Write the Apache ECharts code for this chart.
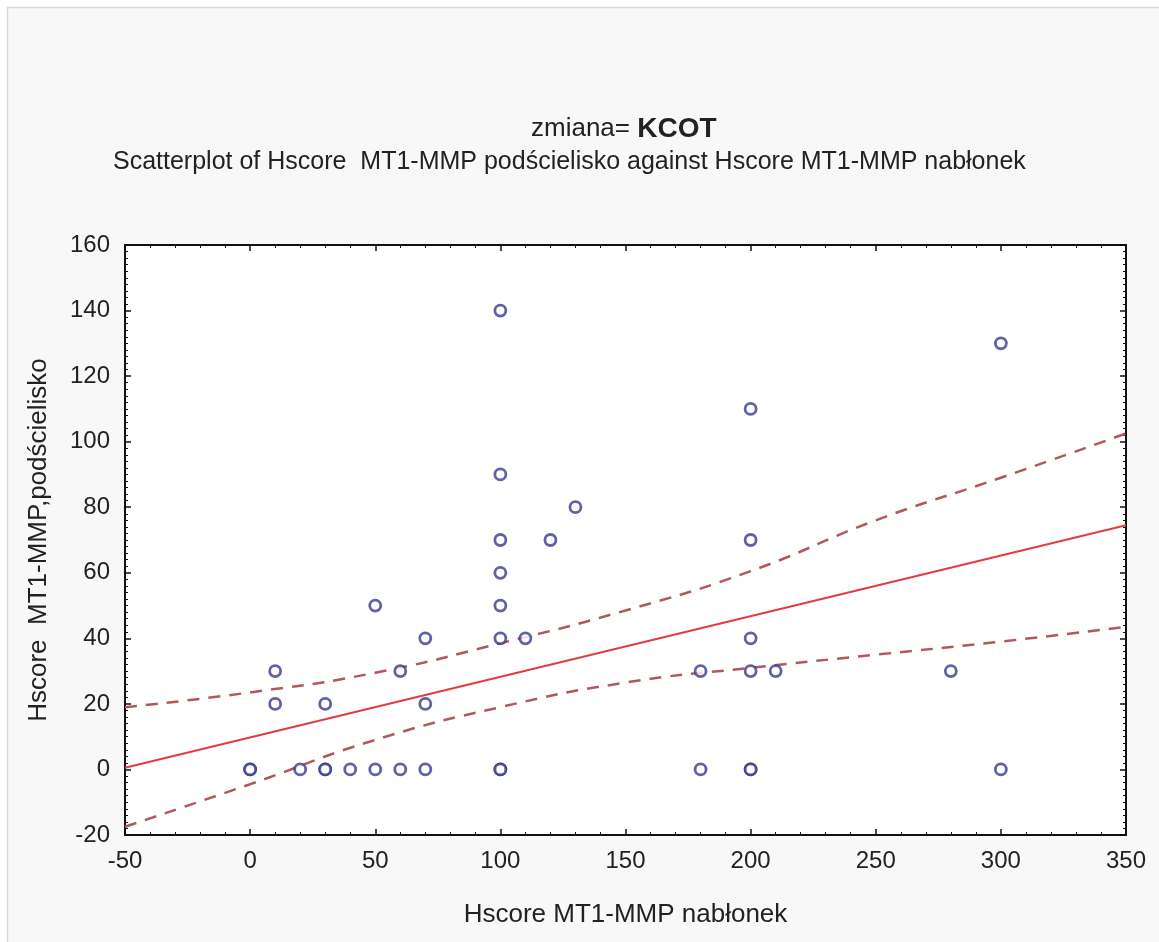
<!DOCTYPE html>
<html><head><meta charset="utf-8">
<script src="https://cdn.jsdelivr.net/npm/echarts@6/dist/echarts.min.js"></script>
<style>html,body{margin:0;padding:0;background:#fff}#c{width:1159px;height:942px}</style>
</head><body><div id="c"></div>
<script>
const xTicks = [-50, 0, 50, 100, 150, 200, 250, 300, 350];
const yTicks = [-20, 0, 20, 40, 60, 80, 100, 120, 140, 160];
const nablonek = [0,0,10,10,20,30,30,30,40,50,50,60,60,70,70,70,100,100,100,100,100,100,100,100,110,120,130,180,180,200,200,200,200,200,200,210,280,300,300];
const podscielisko = [0,0,30,20,0,20,0,0,0,50,0,30,0,40,20,0,140,90,70,60,50,40,0,0,40,70,80,30,0,110,70,40,30,0,0,30,30,130,0];
const fitX = [-50, 350];
const fitY = [0.5, 74.5];
const bandX = [-50, 0, 50, 100, 150, 200, 250, 300, 350];
const upperY = [19, 23.5, 29.5, 38.5, 48.5, 60.5, 76, 89, 102.5];
const lowerY = [-17.5, -4.5, 9, 19, 26.5, 31, 35, 39, 43.5];

const pts = nablonek.map((x,i)=>[x, podscielisko[i]]);
const fit = fitX.map((x,i)=>[x, fitY[i]]);
const up = bandX.map((x,i)=>[x, upperY[i]]);
const lo = bandX.map((x,i)=>[x, lowerY[i]]);

const font = 'Liberation Sans, Arial, sans-serif';
const axisLine = {show:true, onZero:false, lineStyle:{color:'#111', width:2}};
const axisTick = {show:true, inside:true, length:6, lineStyle:{color:'#111', width:1.5}};
const chart = echarts.init(document.getElementById('c'), null, {renderer:'canvas'});
chart.setOption({
  backgroundColor:'#fff',
  animation:false,
  graphic:[{type:'rect', z:-10, shape:{x:7.5,y:7.5,width:1160,height:940}, style:{fill:'#f8f8f8', stroke:'#d8d8d8', lineWidth:1.5}}],
  title:[
    {text:'{a|zmiana= }{b|KCOT}', left:526, top:110, textStyle:{fontWeight:'normal', rich:{a:{fontFamily:font, fontSize:26, fontWeight:'normal', color:'#222'}, b:{fontFamily:font, fontSize:28, fontWeight:'bold', color:'#222'}}}},
    {text:'Scatterplot of Hscore  MT1-MMP podścielisko against Hscore MT1-MMP nabłonek', left:108, top:145, textStyle:{fontFamily:font, fontSize:25, fontWeight:'normal', color:'#222'}}
  ],
  grid:{left:125, right:33, top:245, bottom:107, show:true, backgroundColor:'#fff', borderWidth:0},
  xAxis:[
    {type:'value', position:'bottom', min:xTicks[0], max:xTicks[xTicks.length-1], interval:50,
      axisLine, axisTick, splitLine:{show:false},
      minorTick:{show:true, splitNumber:5, length:3, lineStyle:{color:'#111', width:1}},
      axisLabel:{fontFamily:font, fontSize:24, color:'#222', margin:14},
      name:'Hscore MT1-MMP nabłonek', nameLocation:'middle', nameGap:67,
      nameTextStyle:{fontFamily:font, fontSize:26, color:'#222'}},
    {type:'value', position:'top', min:xTicks[0], max:xTicks[xTicks.length-1], interval:50,
      axisLine, axisTick, splitLine:{show:false},
      minorTick:{show:true, splitNumber:5, length:3, lineStyle:{color:'#111', width:1}},
      axisLabel:{show:false}}
  ],
  yAxis:[
    {type:'value', position:'left', min:yTicks[0], max:yTicks[yTicks.length-1], interval:20,
      axisLine, axisTick, splitLine:{show:false},
      minorTick:{show:true, splitNumber:10, length:3, lineStyle:{color:'#111', width:1}},
      axisLabel:{fontFamily:font, fontSize:24, color:'#222', margin:15},
      name:'Hscore  MT1-MMP,podścielisko', nameLocation:'middle', nameGap:73, nameRotate:90,
      nameTextStyle:{fontFamily:font, fontSize:26, color:'#222'}},
    {type:'value', position:'right', min:yTicks[0], max:yTicks[yTicks.length-1], interval:20,
      axisLine, axisTick, splitLine:{show:false},
      minorTick:{show:true, splitNumber:10, length:3, lineStyle:{color:'#111', width:1}},
      axisLabel:{show:false}}
  ],
  series:[
    {type:'line', data:fit, symbol:'none', lineStyle:{color:'#e23b45', width:2}, z:3},
    {type:'line', data:up, smooth:true, symbol:'none', lineStyle:{color:'#b0585c', width:2.5, type:[12,9]}, z:3},
    {type:'line', data:lo, smooth:true, symbol:'none', lineStyle:{color:'#b0585c', width:2.5, type:[12,9]}, z:3},
    {type:'scatter', data:pts, symbol:'circle', symbolSize:11, itemStyle:{color:'#fff', borderColor:'#3a3a8c', borderWidth:2.8}, z:5}
  ]
});
</script></body></html>
